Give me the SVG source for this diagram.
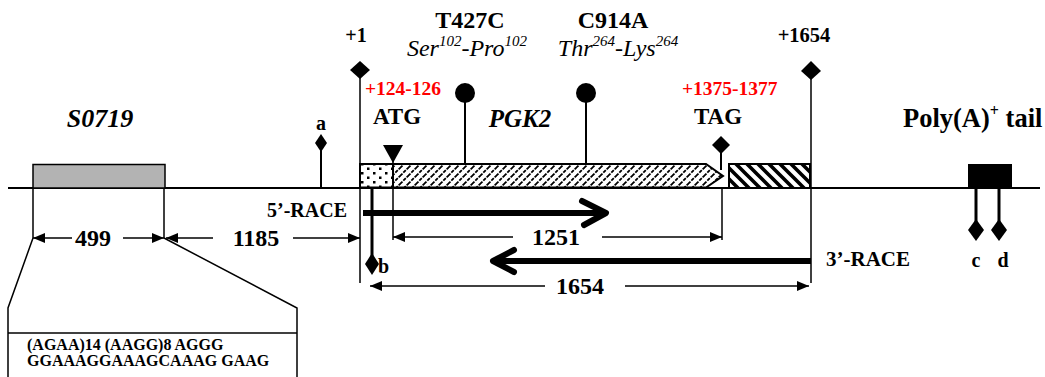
<svg xmlns="http://www.w3.org/2000/svg" width="1045" height="377" viewBox="0 0 1045 377">
<style>
text{font-family:"Liberation Serif","Times New Roman",serif;font-weight:bold;fill:#000}
.it{font-style:italic;font-weight:normal}
.bi{font-style:italic;font-weight:bold}
.red{fill:#FF0000}
.ln{stroke:#000;stroke-width:1.5;fill:none}
.ln2{stroke:#000;stroke-width:2;fill:none}
.thick{stroke:#000;stroke-width:3;fill:none}
.race{stroke:#000;stroke-width:6;fill:none;stroke-linecap:round;stroke-linejoin:round}
.dia{fill:#000}
</style>
<defs>
<pattern id="dots" patternUnits="userSpaceOnUse" width="12" height="9">
<rect width="12" height="9" fill="#fff"/>
<rect x="1" y="1" width="2.5" height="2.5" fill="#000"/>
<rect x="7" y="5.5" width="2.5" height="2.5" fill="#000"/>
</pattern>
<pattern id="hatchThin" patternUnits="userSpaceOnUse" width="8" height="8">
<rect width="8" height="8" fill="#fff"/>
<path d="M-2,2 L2,-2 M0,8 L8,0 M6,10 L10,6" stroke="#000" stroke-width="1.8" stroke-dasharray="3.5 1.2"/>
</pattern>
<pattern id="hatchThick" patternUnits="userSpaceOnUse" width="11" height="11">
<rect width="11" height="11" fill="#fff"/>
<path d="M-3,8 L3,14 M0,0 L11,11 M8,-3 L14,3" stroke="#000" stroke-width="3.6"/>
</pattern>
<marker id="ah" viewBox="0 0 12 10" refX="12" refY="5" markerWidth="12" markerHeight="10" markerUnits="userSpaceOnUse" orient="auto">
<path d="M0,0 L12,5 L0,10 Z" fill="#000"/>
</marker>
</defs>

<!-- baseline -->
<g id="baseline">
<line x1="8" y1="188" x2="1040" y2="188" class="ln2"/>
</g>

<!-- S0719 -->
<g id="s0719">
<rect x="33" y="164.5" width="132" height="23.5" fill="#b3b3b3" stroke="#000" stroke-width="1.5"/>
<text x="100" y="127" class="bi" font-size="26" text-anchor="middle">S0719</text>
</g>

<!-- marker a -->
<g id="marker-a">
<line x1="321" y1="150" x2="321" y2="188" class="ln2"/>
<path d="M321,134 L327,143 L321,152 L315,143 Z" class="dia"/>
<text x="321" y="130" font-size="20" text-anchor="middle">a</text>
</g>

<!-- PGK2 gene body -->
<g id="pgk2">
<path d="M393,164 L706,164 L723,176 L706,187.5 L393,187.5 Z" fill="url(#hatchThin)" stroke="#000" stroke-width="2"/>
<rect x="360" y="164" width="33" height="23.5" fill="url(#dots)" stroke="#000" stroke-width="2"/>
<text x="520" y="127" class="bi" font-size="25" text-anchor="middle">PGK2</text>
</g>

<!-- 3' UTR -->
<g id="utr3">
<rect x="729" y="164" width="81" height="24" fill="url(#hatchThick)" stroke="#000" stroke-width="2"/>
</g>

<!-- poly A -->
<g id="polyA">
<rect x="968.5" y="164.5" width="43" height="23.5" fill="#000" stroke="#000" stroke-width="1"/>
<text x="903" y="127" font-size="26.5">Poly(A)<tspan font-size="16" dy="-11">+</tspan><tspan dy="11"> tail</tspan></text>
</g>

<!-- +1 marker -->
<g id="plus1">
<line x1="360" y1="78" x2="360" y2="283" class="ln"/>
<path d="M360,61 L370,70 L360,79 L350,70 Z" class="dia"/>
<text x="356" y="42" font-size="20" text-anchor="middle">+1</text>
</g>

<!-- +1654 marker -->
<g id="plus1654">
<line x1="811" y1="79" x2="811" y2="283" class="ln"/>
<path d="M811,61 L821,71 L811,80 L801,71 Z" class="dia"/>
<text x="804" y="42" font-size="20.5" text-anchor="middle">+1654</text>
</g>

<!-- ATG -->
<g id="atg">
<path d="M383,145 L403,145 L393,163 Z" class="dia"/>
<line x1="393" y1="160" x2="393" y2="240" class="ln"/>
<text x="365" y="95" class="red" font-size="19.5">+124-126</text>
<text x="397" y="124" font-size="23" text-anchor="middle">ATG</text>
</g>

<!-- TAG -->
<g id="tag">
<line x1="721" y1="152" x2="721" y2="170" class="ln2"/>
<path d="M721,136 L730,145 L721,154 L712,145 Z" class="dia"/>
<line x1="722" y1="188" x2="722" y2="240" class="ln"/>
<text x="682" y="95" class="red" font-size="19.5">+1375-1377</text>
<text x="718" y="124" font-size="23" text-anchor="middle">TAG</text>
</g>

<!-- SNP T427C -->
<g id="snp1">
<line x1="465" y1="100" x2="465" y2="164" class="ln2"/>
<circle cx="465" cy="93" r="10" fill="#000"/>
<text x="470" y="28" font-size="24" text-anchor="middle">T427C</text>
<text x="467" y="56" class="it" font-size="24" text-anchor="middle">Ser<tspan font-size="15" dy="-10">102</tspan><tspan dy="10">-Pro</tspan><tspan font-size="15" dy="-10">102</tspan></text>
</g>

<!-- SNP C914A -->
<g id="snp2">
<line x1="586" y1="100" x2="586" y2="164" class="ln2"/>
<circle cx="586" cy="93" r="10" fill="#000"/>
<text x="613" y="28" font-size="24" text-anchor="middle">C914A</text>
<text x="618" y="56" class="it" font-size="24" text-anchor="middle">Thr<tspan font-size="15" dy="-10">264</tspan><tspan dy="10">-Lys</tspan><tspan font-size="15" dy="-10">264</tspan></text>
</g>

<!-- marker b -->
<g id="marker-b">
<line x1="372" y1="188" x2="372" y2="256" class="thick"/>
<path d="M372,253 L379,264 L372,275 L365,264 Z" class="dia"/>
<text x="378" y="273" font-size="20">b</text>
</g>

<!-- markers c, d -->
<g id="marker-c">
<line x1="976" y1="188" x2="976" y2="222" class="thick"/>
<path d="M976,219 L984,230 L976,241 L968,230 Z" class="dia"/>
<text x="976" y="267" font-size="20" text-anchor="middle">c</text>
</g>
<g id="marker-d">
<line x1="999" y1="188" x2="999" y2="222" class="thick"/>
<path d="M999,219 L1007,230 L999,241 L991,230 Z" class="dia"/>
<text x="1003" y="267" font-size="20" text-anchor="middle">d</text>
</g>

<!-- RACE labels -->
<g id="race-labels">
<text x="347" y="217" font-size="20" text-anchor="end">5’-RACE</text>
<text x="826" y="266" font-size="21">3’-RACE</text>
</g>

<!-- connectors -->
<g id="connectors">
<!-- S0719 extension lines -->
<line x1="33" y1="188" x2="33" y2="238" class="ln"/>
<line x1="164" y1="188" x2="164" y2="238" class="ln"/>
<!-- 499 -->
<line x1="72" y1="238" x2="33" y2="238" class="ln" marker-end="url(#ah)"/>
<line x1="123" y1="238" x2="164" y2="238" class="ln" marker-end="url(#ah)"/>
<text x="93" y="246" font-size="24" text-anchor="middle">499</text>
<!-- 1185 -->
<line x1="213" y1="238" x2="166" y2="238" class="ln" marker-end="url(#ah)"/>
<line x1="293" y1="238" x2="360" y2="238" class="ln" marker-end="url(#ah)"/>
<text x="256" y="246" font-size="24" text-anchor="middle">1185</text>
<!-- 1251 -->
<line x1="513" y1="237" x2="393" y2="237" class="ln" marker-end="url(#ah)"/>
<line x1="602" y1="237" x2="722" y2="237" class="ln" marker-end="url(#ah)"/>
<text x="556" y="245" font-size="24" text-anchor="middle">1251</text>
<!-- 1654 -->
<line x1="545" y1="286" x2="370" y2="286" class="ln" marker-end="url(#ah)"/>
<line x1="625" y1="286" x2="809" y2="286" class="ln" marker-end="url(#ah)"/>
<text x="580" y="294" font-size="24" text-anchor="middle">1654</text>
<!-- 5'-RACE arrow -->
<line x1="363" y1="213" x2="604" y2="213" stroke="#000" stroke-width="6"/>
<path d="M582,201 L606,213 L584,225" class="race"/>
<!-- 3'-RACE arrow -->
<line x1="811" y1="261" x2="495" y2="261" stroke="#000" stroke-width="6"/>
<path d="M514,250 L493,261 L514,272" class="race"/>
<!-- zoom lines -->
<path d="M33,238 L8,308 L8,377" class="ln"/>
<path d="M164,238 L297,308 L297,377" class="ln"/>
<line x1="8" y1="333" x2="297" y2="333" class="ln"/>
</g>

<g id="sequence">
<text x="27" y="350" font-size="16">(AGAA)14 (AAGG)8 AGGG</text>
<text x="27" y="366" font-size="16">GGAAAGGAAAGCAAAG GAAG</text>
</g>
</svg>
